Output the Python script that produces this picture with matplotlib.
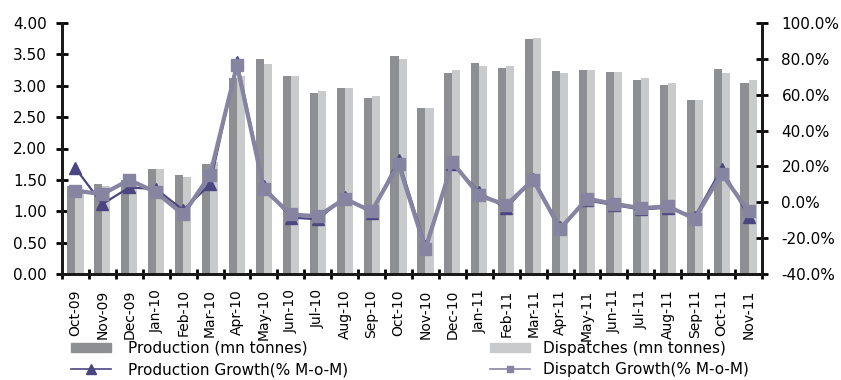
import numpy as np
import matplotlib.pyplot as plt
from matplotlib.lines import Line2D
from matplotlib.patches import Patch
from matplotlib.ticker import FuncFormatter

plt.rcParams['font.family'] = ['DejaVu Sans']

months = ["Oct-09", "Nov-09", "Dec-09", "Jan-10", "Feb-10", "Mar-10", "Apr-10",
          "May-10", "Jun-10", "Jul-10", "Aug-10", "Sep-10", "Oct-10", "Nov-10",
          "Dec-10", "Jan-11", "Feb-11", "Mar-11", "Apr-11", "May-11", "Jun-11",
          "Jul-11", "Aug-11", "Sep-11", "Oct-11", "Nov-11"]

# mn tonnes
production = [1.40, 1.43, 1.50, 1.67, 1.57, 1.75, 3.13, 3.43, 3.15, 2.88, 2.96, 2.80, 3.47,
              2.65, 3.20, 3.37, 3.29, 3.75, 3.24, 3.25, 3.22, 3.09, 3.01, 2.77, 3.27, 3.04]
dispatches = [1.35, 1.40, 1.47, 1.67, 1.55, 1.78, 3.15, 3.35, 3.15, 2.92, 2.96, 2.84, 3.43,
              2.65, 3.25, 3.31, 3.31, 3.76, 3.20, 3.25, 3.22, 3.13, 3.05, 2.77, 3.20, 3.09]

# month-on-month growth, %
prod_growth = [19.0, -1.0, 8.3, 7.3, -4.3, 10.0, 78.5, 9.0, -8.5, -9.5, 2.7, -5.7, 23.7,
               -24.3, 21.3, 5.5, -3.3, 13.2, -14.0, 1.0, -1.5, -4.0, -3.0, -8.0, 18.8, -8.0]
disp_growth = [6.5, 4.5, 12.5, 5.5, -6.8, 15.3, 76.5, 7.3, -6.8, -7.8, 2.0, -5.0, 21.3,
               -26.0, 22.3, 3.8, -1.5, 12.5, -14.8, 2.0, -0.8, -3.3, -2.2, -9.2, 16.0, -5.0]

prod_color = "#8e8f93"
disp_color = "#c9cacc"
pg_color = "#4b4682"
dg_color = "#8784a2"

fig = plt.figure(figsize=(8.41, 3.80), dpi=100)
ax = fig.add_axes([62 / 841, 1 - 274 / 380, 700 / 841, 251 / 380])
ax2 = ax.twinx()

x = np.arange(len(months))
w = 0.3
ax.bar(x - w / 2, production, width=w, color=prod_color, zorder=2)
ax.bar(x + w / 2, dispatches, width=w, color=disp_color, zorder=2)

ax2.plot(x, prod_growth, color=pg_color, lw=1.6, marker="^", ms=8, zorder=3)
ax2.plot(x, disp_growth, color=dg_color, lw=3, marker="s", ms=8, zorder=4)

ax.set_xlim(-0.5, len(months) - 0.5)
ax.set_ylim(0, 4)
ax.set_yticks(np.arange(0, 4.01, 0.5))
ax.yaxis.set_major_formatter(FuncFormatter(lambda v, p: f"{v:.2f}"))
ax2.set_ylim(-40, 100)
ax2.set_yticks(np.arange(-40, 101, 20))
ax2.yaxis.set_major_formatter(FuncFormatter(lambda v, p: f"{v:.1f}%"))

ax.set_xticks(x)
ax.set_xticklabels(months, rotation=90)
ax.set_xticks(np.arange(-0.5, len(months), 1), minor=True)
ax.tick_params(axis="x", which="major", length=0, pad=11, labelsize=10)
ax.tick_params(axis="x", which="minor", direction="inout", length=7, width=2)
ax.tick_params(axis="y", direction="inout", length=8, width=2, labelsize=11, pad=7)
ax2.tick_params(axis="y", direction="inout", length=8, width=2, labelsize=11, pad=10)

for a in (ax, ax2):
    a.spines["top"].set_visible(False)
    for s in ("left", "right", "bottom"):
        a.spines[s].set_linewidth(2)
        a.spines[s].set_color("#1a1a1a")

leg_kw = dict(loc="center left", frameon=False, fontsize=11, handlelength=2.6,
              handleheight=0.5, labelspacing=0.42, borderpad=0, borderaxespad=0)

# production entries on the left, dispatch entries on the right
leg1 = fig.legend([Patch(color=prod_color),
                   Line2D([], [], color=pg_color, lw=1.2, marker="^", ms=7)],
                  ["Production (mn tonnes)", "Production Growth(% M-o-M)"],
                  bbox_to_anchor=(71 / 841, 1 - 359 / 380), handletextpad=1.1, **leg_kw)
leg2 = fig.legend([Patch(color=disp_color),
                   Line2D([], [], color=dg_color, lw=1.2, marker="s", ms=5)],
                  ["Dispatches (mn tonnes)", "Dispatch Growth(% M-o-M)"],
                  bbox_to_anchor=(490 / 841, 1 - 359 / 380), handletextpad=0.9, **leg_kw)

fig.savefig("out.png", dpi=100)
